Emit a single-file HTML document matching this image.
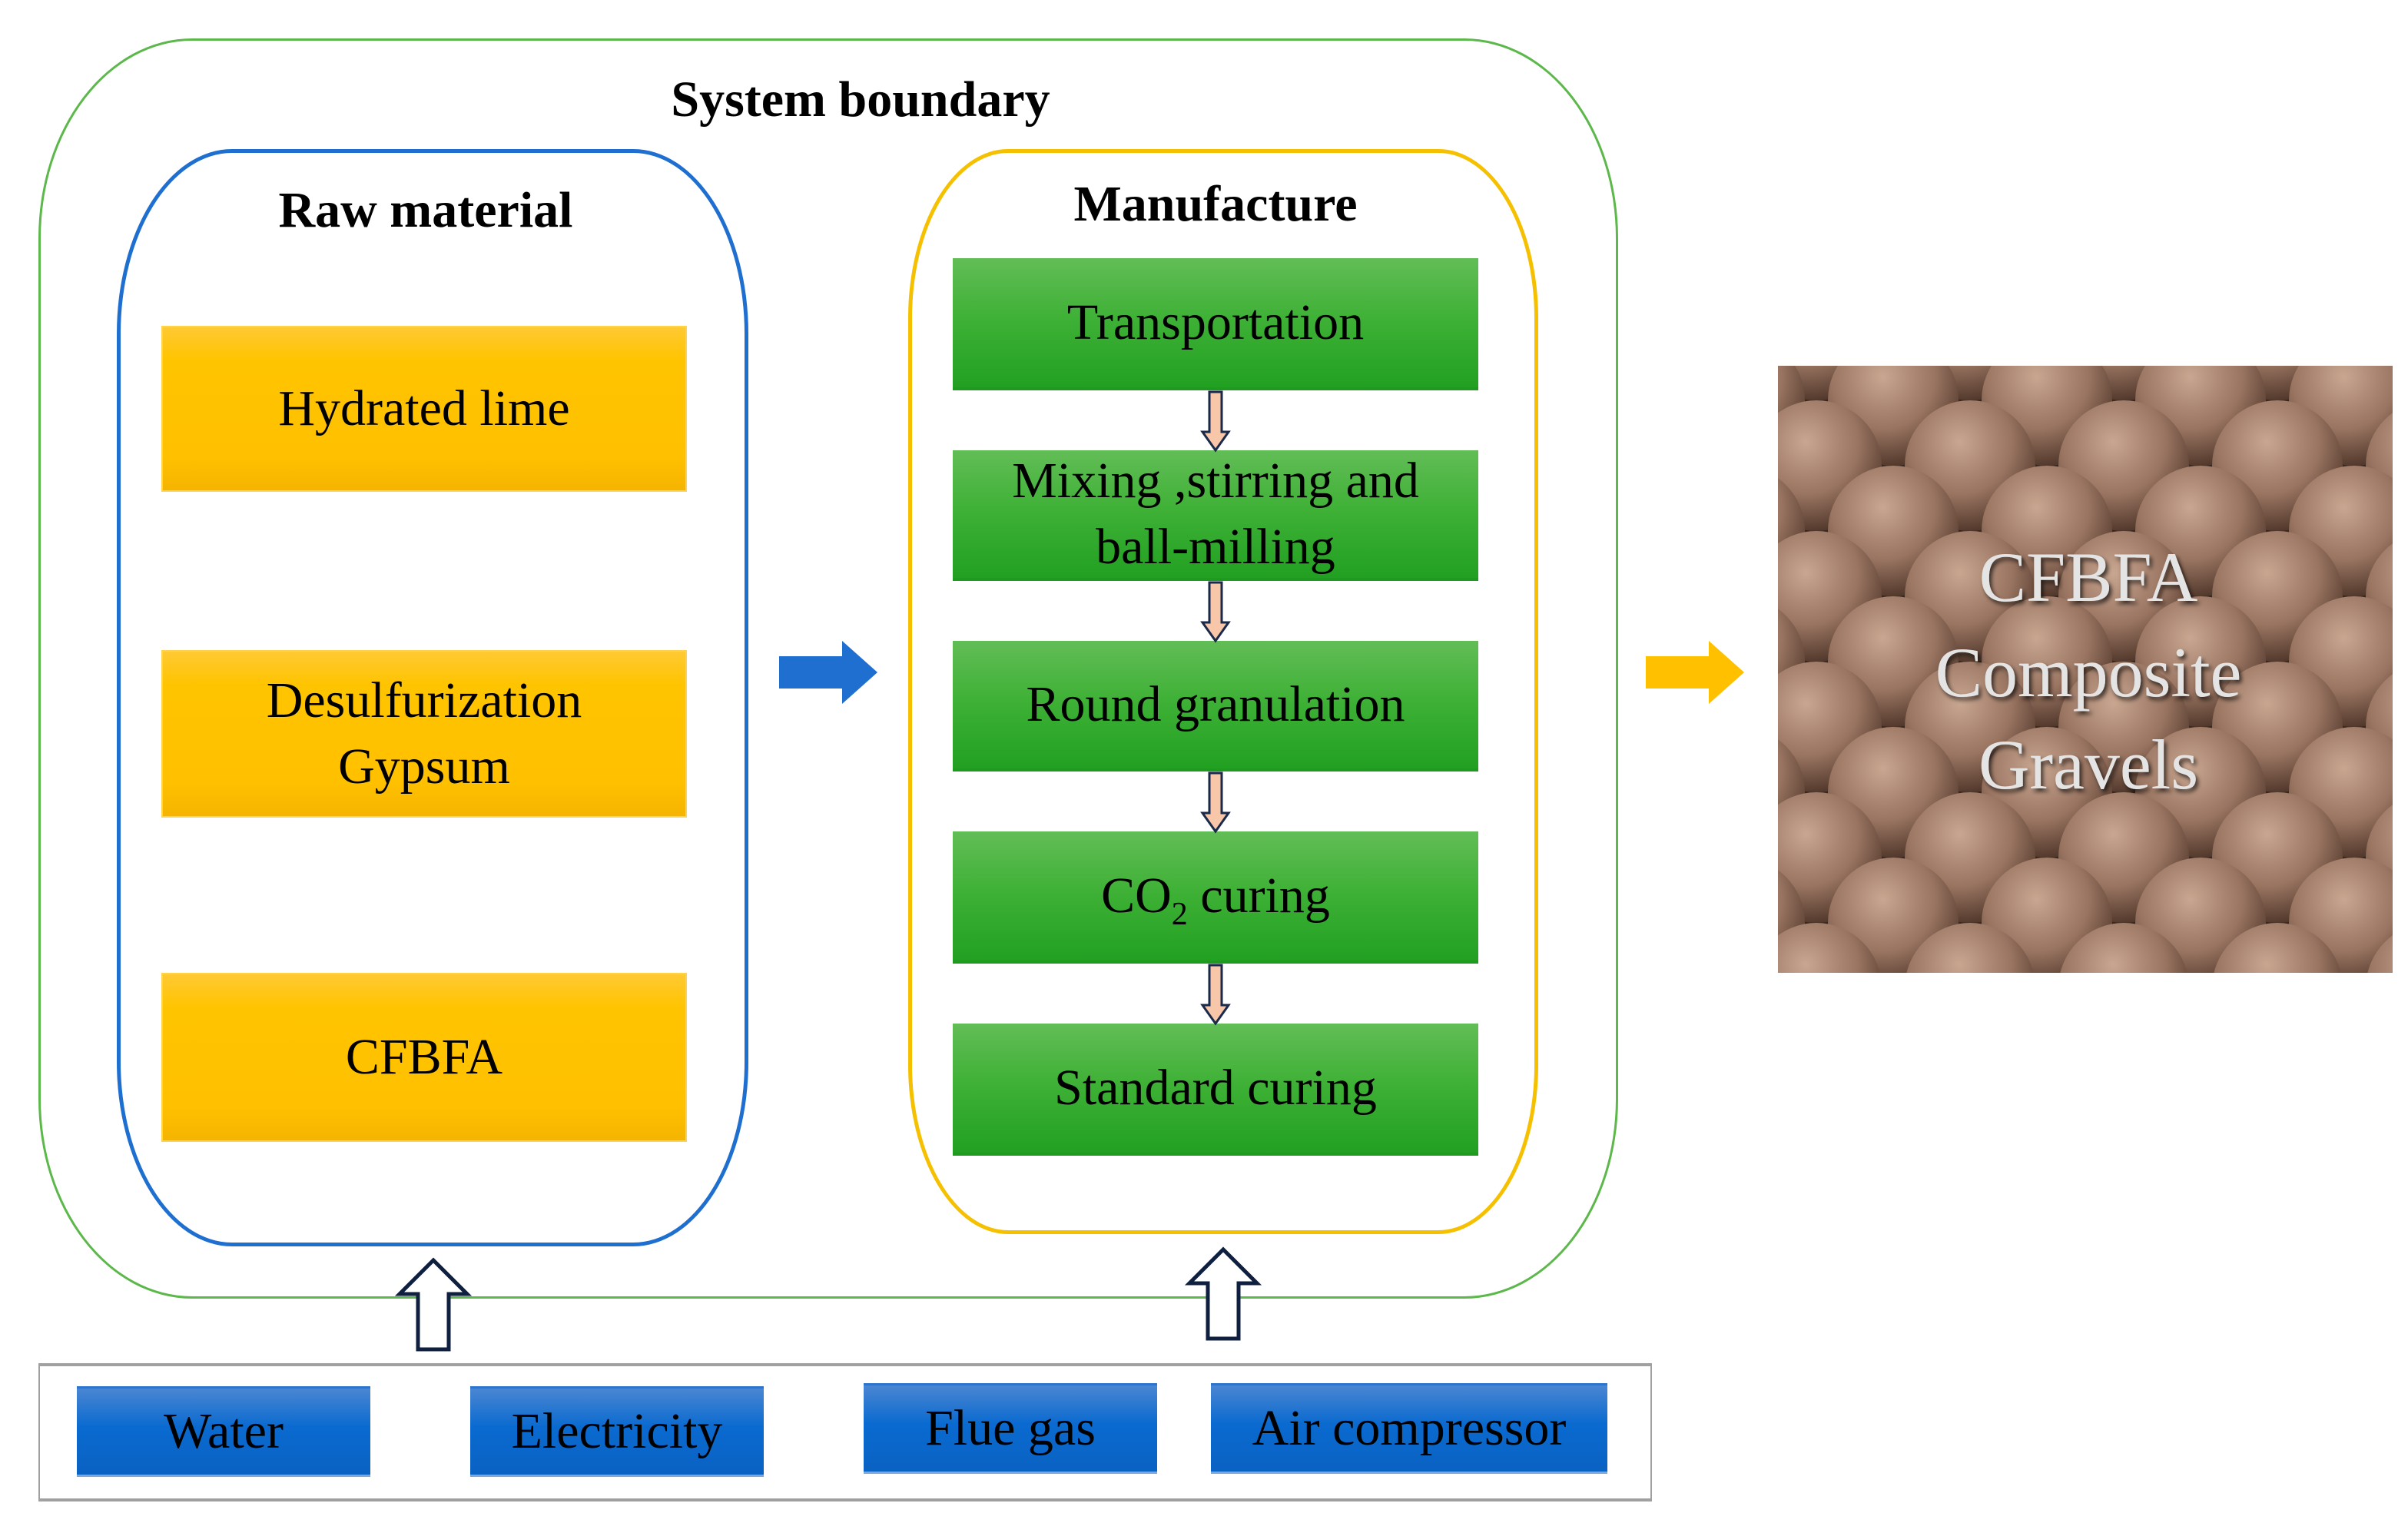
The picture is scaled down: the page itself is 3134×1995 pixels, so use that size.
<!DOCTYPE html>
<html><head><meta charset="utf-8"><style>
body{margin:0;width:3134px;height:1995px;background:#fff;position:relative;overflow:hidden;font-family:"Liberation Serif",serif}
.a{position:absolute;box-sizing:border-box}
.t{display:flex;align-items:center;justify-content:center;text-align:center;color:#000;font-size:66px;line-height:1.1}
.o{background:linear-gradient(#ffc933,#ffc400 20%,#ffc000 80%,#f5b400);border:2px solid #ffd34d}
.g{background:linear-gradient(#62bd56,#3cb034 50%,#22a022);border-bottom:4px solid #1e9a1e}
.b{background:linear-gradient(#4a86d2,#0a6ad0 45%,#0a62c2);border-top:3px solid #2c74cc;border-bottom:3px solid #7aa8e0}
.h{font-weight:bold}
</style></head><body>
<div class="a" style="left:50px;top:50px;width:2056px;height:1640px;border:3px solid #5cb84a;border-radius:200px/260px"></div>
<div class="a t h" style="left:700px;top:90px;width:840px;height:80px">System boundary</div>
<div class="a" style="left:152px;top:194px;width:822px;height:1428px;border:5px solid #1f6fd0;border-radius:150px/240px"></div>
<div class="a t h" style="left:254px;top:234px;width:600px;height:80px">Raw material</div>
<div class="a t o" style="left:210px;top:424px;width:684px;height:216px">Hydrated lime</div>
<div class="a t o" style="left:210px;top:846px;width:684px;height:218px;line-height:1.3">Desulfurization<br>Gypsum</div>
<div class="a t o" style="left:210px;top:1266px;width:684px;height:220px">CFBFA</div>
<div class="a" style="left:1182px;top:194px;width:820px;height:1412px;border:5px solid #f5c000;border-radius:130px/220px"></div>
<div class="a t h" style="left:1282px;top:226px;width:600px;height:80px">Manufacture</div>
<div class="a t g" style="left:1240px;top:336px;width:684px;height:172px">Transportation</div>
<div class="a t g" style="left:1240px;top:586px;width:684px;height:170px;line-height:1.3">Mixing ,stirring and<br>ball-milling</div>
<div class="a t g" style="left:1240px;top:834px;width:684px;height:170px">Round granulation</div>
<div class="a t g" style="left:1240px;top:1082px;width:684px;height:172px"><span>CO<span style="font-size:42px;position:relative;top:16px">2</span> curing</span></div>
<div class="a t g" style="left:1240px;top:1332px;width:684px;height:172px">Standard curing</div>
<svg class="a" style="left:0;top:0" width="3134" height="1995">
<defs>
<g id="sa"><path d="M-8,0 h16 v52 h9 l-17,24 l-17,-24 h9 z" fill="#f8c6a8" stroke="#1a2a4a" stroke-width="3"/></g>
<g id="ua"><path d="M-20,116 v-72 h-24 l44,-44 l44,44 h-24 v72 z" fill="#fff" stroke="#0f1f3f" stroke-width="5"/></g>
<radialGradient id="sp" cx="0.42" cy="0.32" r="0.72"><stop offset="0" stop-color="#c8a690"/><stop offset="0.55" stop-color="#9a7562"/><stop offset="1" stop-color="#4a3226"/></radialGradient>
<pattern id="pt" x="2314" y="476" width="200" height="170" patternUnits="userSpaceOnUse">
<rect width="200" height="170" fill="#3a281e"/>
<circle cx="50" cy="-40" r="85" fill="url(#sp)"/><circle cx="250" cy="-40" r="85" fill="url(#sp)"/>
<circle cx="150" cy="45" r="85" fill="url(#sp)"/><circle cx="-50" cy="45" r="85" fill="url(#sp)"/>
<circle cx="50" cy="130" r="85" fill="url(#sp)"/><circle cx="250" cy="130" r="85" fill="url(#sp)"/>
<circle cx="150" cy="215" r="85" fill="url(#sp)"/><circle cx="-50" cy="215" r="85" fill="url(#sp)"/>
</pattern>
<filter id="sh"><feDropShadow dx="3" dy="4" stdDeviation="3" flood-color="#000" flood-opacity="0.7"/></filter>
</defs>
<use href="#sa" x="1582" y="510"/>
<use href="#sa" x="1582" y="758"/>
<use href="#sa" x="1582" y="1006"/>
<use href="#sa" x="1582" y="1256"/>
<path d="M1014,854 h82 v-20 l46,41 l-46,41 v-20 h-82 z" fill="#1f6fd0"/>
<path d="M2142,854 h82 v-20 l46,41 l-46,41 v-20 h-82 z" fill="#ffc000"/>
<use href="#ua" x="564" y="1640"/>
<use href="#ua" x="1592" y="1626"/>
<rect x="2314" y="476" width="800" height="790" fill="url(#pt)"/>
<g font-family="Liberation Serif,serif" font-size="92" fill="#e4e4e4" text-anchor="middle" filter="url(#sh)">
<text x="2718" y="782">CFBFA</text><text x="2718" y="906">Composite</text><text x="2718" y="1026">Gravels</text></g>
</svg>
<div class="a" style="left:50px;top:1774px;width:2100px;height:180px;border:4px solid #a0a0a0;border-left-width:2px;border-right-width:2px"></div>
<div class="a t b" style="left:100px;top:1804px;width:382px;height:118px">Water</div>
<div class="a t b" style="left:612px;top:1804px;width:382px;height:118px">Electricity</div>
<div class="a t b" style="left:1124px;top:1800px;width:382px;height:118px">Flue gas</div>
<div class="a t b" style="left:1576px;top:1800px;width:516px;height:118px">Air compressor</div>
</body></html>
